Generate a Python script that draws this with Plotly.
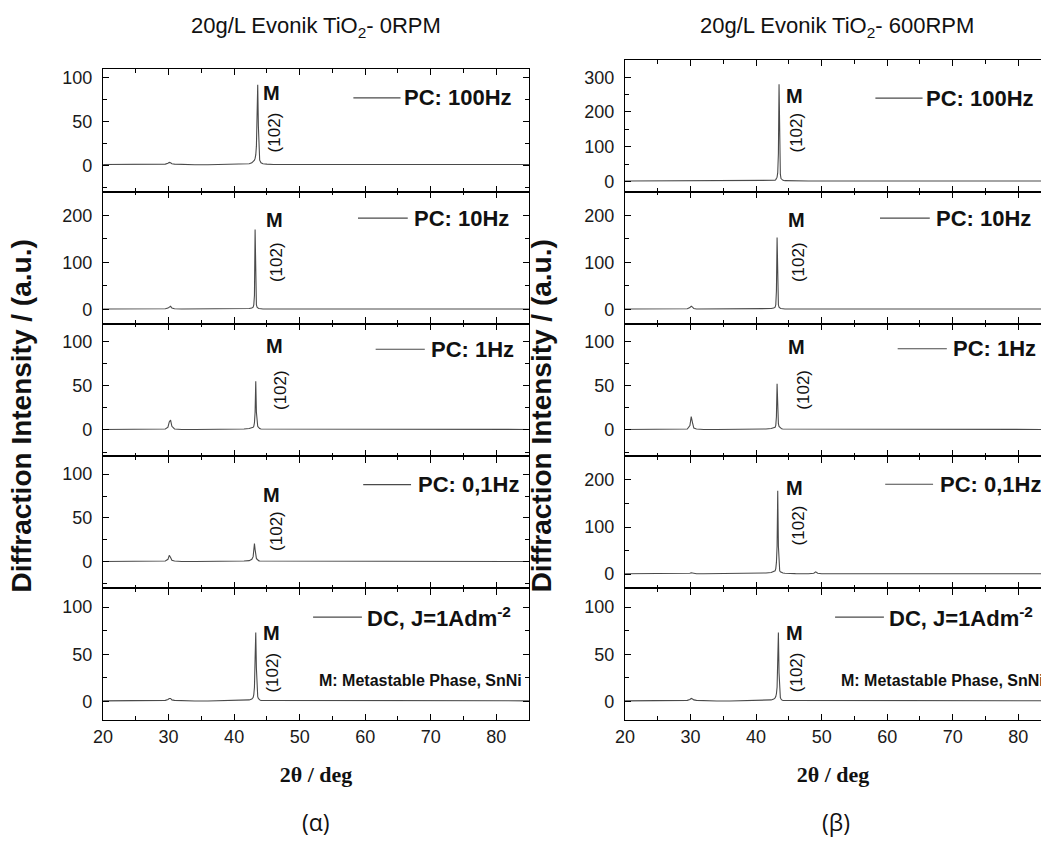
import plotly.graph_objects as go

# 2-theta sampling grid (deg), shared by all patterns
two_theta = [20, 22, 24, 26, 28, 29.5, 29.9, 30.1, 30.3, 30.5, 30.9, 32, 34, 36, 38, 40,
             41.5, 42.3, 42.7, 42.9, 43.0, 43.1, 43.2, 43.3, 43.4, 43.5, 43.6, 43.7, 43.8, 43.9,
             44.1, 44.4, 45, 46, 48, 48.8, 49.1, 49.4, 50, 53, 56, 60, 64, 68, 72, 76,
             79.3, 79.8, 80.3, 82, 85]

# 0 RPM patterns (a.u.)
rpm0_100hz = [1, 1, 1, 1, 1, 1.5, 2.5, 3.5, 3, 2, 1.5, 1, 0.8, 0.8, 1, 1.2,
              1.5, 2, 3, 4, 5, 6, 8, 12, 22, 50, 92, 45, 14, 6,
              3, 2, 1.5, 1, 1, 1, 1.2, 1, 1, 1, 1, 1.5, 1, 1, 1, 1,
              1, 1.5, 1, 1, 1]
rpm0_10hz = [1, 1, 1, 1, 1, 1.5, 3, 6, 7, 3, 1.5, 1, 1, 1, 1, 1.2,
             1.5, 2, 3, 5, 10, 30, 170, 35, 10, 5, 3, 2.5, 2, 1.5,
             1.5, 1, 1, 1, 1, 1, 1, 1, 1, 1, 1, 1, 1, 1, 1, 1,
             1, 1, 1, 1, 1]
rpm0_1hz = [0.5, 0.5, 0.5, 0.5, 0.5, 1, 3, 9, 11, 4, 1, 0.5, 0.5, 0.5, 0.5, 0.8,
            1, 1.5, 2, 3, 4, 8, 20, 55, 20, 7, 4, 3, 2, 1.5,
            1, 1, 0.8, 0.5, 0.5, 0.5, 0.5, 0.5, 0.5, 0.5, 0.5, 0.5, 0.5, 0.5, 0.5, 0.5,
            0.5, 0.5, 0.5, 0.5, 0.5]
rpm0_01hz = [0.5, 0.5, 0.5, 0.5, 0.5, 1, 3, 7.5, 5, 2, 1, 0.5, 0.5, 0.5, 0.5, 0.8,
             1, 1.5, 3, 6, 12, 21, 14, 7, 4, 3, 2, 1.5, 1.2, 1,
             1, 0.8, 0.5, 0.5, 0.5, 0.5, 0.5, 0.5, 0.5, 0.5, 0.5, 0.5, 0.5, 0.5, 0.5, 0.5,
             0.5, 0.5, 0.5, 0.5, 0.5]
rpm0_dc = [0.5, 0.5, 0.5, 0.5, 0.5, 1, 2, 3, 3, 1.5, 1, 0.5, 0.3, 0.3, 0.5, 0.8,
           1, 1.5, 2.5, 4, 7, 15, 45, 73, 35, 10, 5, 3, 2, 1.5,
           1, 1, 0.8, 0.5, 0.5, 0.5, 0.5, 0.5, 0.5, 0.5, 0.5, 0.5, 0.5, 0.5, 0.5, 0.5,
           0.5, 1, 0.5, 0.5, 0.5]

# 600 RPM patterns (a.u.)
rpm600_100hz = [1, 1, 1, 1, 1, 1, 1.5, 2.5, 2, 1, 1, 1, 1, 1, 1, 1,
                1, 1.5, 2, 3, 5, 8, 12, 25, 80, 280, 90, 20, 8, 5,
                3, 2, 1.5, 1, 1, 1, 1, 1, 1, 1, 1, 1, 1, 1, 1, 1,
                1, 1, 1, 1, 1]
rpm600_10hz = [1, 1, 1, 1, 1, 1.5, 4, 7, 5, 2, 1, 1, 1, 1, 1, 1,
               1.5, 2, 3, 5, 10, 40, 153, 40, 10, 5, 3, 2.5, 2, 1.5,
               1.5, 1, 1, 1, 1, 1, 1, 1, 1, 1, 1, 1, 1, 1, 1, 1,
               1, 1, 1, 1, 1]
rpm600_1hz = [0.5, 0.5, 0.5, 0.5, 0.5, 1, 5, 15, 8, 2, 1, 0.5, 0.5, 0.5, 0.5, 0.5,
              1, 1.5, 2, 3, 5, 15, 52, 20, 7, 4, 3, 2, 1.5, 1.2,
              1, 1, 0.8, 0.5, 0.5, 0.5, 0.5, 0.5, 0.5, 0.5, 0.5, 0.5, 0.5, 0.5, 0.5, 0.5,
              0.5, 0.5, 0.5, 0.5, 0.5]
rpm600_01hz = [1, 1, 1, 1, 1, 1, 2, 3, 2.5, 1.5, 1, 1, 1, 1, 1.5, 2,
               2.5, 3.5, 5, 7, 12, 25, 60, 177, 60, 15, 7, 5, 4, 3,
               2.5, 2, 1.5, 1.2, 1, 2, 5, 2, 1, 1, 1, 1, 1, 1, 1, 1,
               1, 1, 1, 1, 1]
rpm600_dc = [0.5, 0.5, 0.5, 0.5, 0.5, 1, 2, 3, 2.5, 1.5, 1, 0.5, 0.3, 0.3, 0.5, 0.8,
             1, 1.5, 2.5, 3.5, 5, 8, 15, 35, 73, 30, 8, 4, 2.5, 1.5,
             1, 1, 0.8, 0.5, 0.5, 0.5, 0.5, 0.5, 0.5, 0.5, 0.5, 0.5, 0.5, 0.5, 0.5, 0.5,
             0.5, 1, 0.5, 0.5, 0.5]

conditions = ["PC: 100Hz", "PC: 10Hz", "PC: 1Hz", "PC: 0,1Hz", "DC, J=1Adm<sup>-2</sup>"]
column_titles = ["20g/L Evonik TiO<sub>2</sub>- 0RPM", "20g/L Evonik TiO<sub>2</sub>- 600RPM"]
column_tags = ["(\u03b1)", "(\u03b2)"]
peak_label = "M"
peak_index = "(102)"
phase_note = "M: Metastable Phase, SnNi"

columns = [
    [rpm0_100hz, rpm0_10hz, rpm0_1hz, rpm0_01hz, rpm0_dc],
    [rpm600_100hz, rpm600_10hz, rpm600_1hz, rpm600_01hz, rpm600_dc],
]

# ---- layout geometry (pixels) ----
W, H = 1041, 841
col_x = [(94, 524), (621, 1041)]
col_xrange = [[20, 85], [20, 83.47]]
panel_tops = [[68, 191, 323, 456, 588], [59, 191, 323, 456, 588]]
panel_bottoms = [191, 323, 456, 588, 720]
y_ranges = [
    [[-30, 110], [-30, 250], [-30, 120], [-30, 120], [-20, 120]],
    [[-30, 350], [-30, 250], [-30, 120], [-30, 250], [-20, 120]],
]
y_dticks = [[50, 100, 50, 50, 50], [100, 100, 50, 100, 50]]

# key placement inside each panel: sample-line start/end and text start (deg), height (data)
key_line = [(58.2, 65.4), (58.9, 66.5), (61.6, 69.1), (59.7, 67.0), (52.05, 59.5)]
key_text_x = [66.3, 67.7, 70.3, 68.3, 60.6]
key_y = [[77, 194, 91, 88, 89.4], [240, 194, 91.7, 191, 89.4]]
# peak annotations: (x, y) for "M" and "(102)"
m_pos = [
    [(45.75, 83), (46.1, 190), (46.1, 94.7), (45.7, 75.8), (45.75, 72.9)],
    [(45.84, 247), (46.2, 190), (46.2, 93.5), (45.84, 184), (45.84, 72.9)],
]
hkl_pos = [
    [(46.2, 37.4), (46.5, 100), (47.0, 45), (46.35, 35), (45.85, 31)],
    [(46.2, 140), (46.5, 100), (47.1, 45), (46.5, 103), (46.1, 31)],
]

SANS = "Liberation Sans, Arial, sans-serif"
INK = "#111111"
TRACE = "#4a4a4a"

fig = go.Figure()
layout = dict(
    width=W, height=H, margin=dict(l=0, r=0, t=0, b=0),
    paper_bgcolor="white", plot_bgcolor="white", showlegend=False,
    font=dict(family=SANS, color=INK, size=18),
)
annotations = []
shapes = []

for c in range(2):
    x0, x1 = col_x[c]
    for i in range(5):
        k = c * 5 + i + 1
        xa, ya = f"x{k}", f"y{k}"
        fig.add_trace(go.Scatter(
            x=two_theta, y=columns[c][i], mode="lines",
            line=dict(color=TRACE, width=1.1), xaxis=xa, yaxis=ya,
            name=conditions[i],
        ))
        top, bot = panel_tops[c][i], panel_bottoms[i]
        last = i == 4
        layout[f"xaxis{k}"] = dict(
            domain=[x0 / W, min(x1 / W, 1.0)], range=col_xrange[c], anchor=ya,
            showgrid=False, zeroline=False, showline=True, linecolor="black", linewidth=1.4,
            mirror="ticks", ticks="inside", ticklen=6, tickwidth=1.4, tickcolor="black",
            dtick=10, tick0=20, showticklabels=last,
            tickfont=dict(family=SANS, size=18, color="#1a1a1a"),
            minor=dict(dtick=5, tick0=20, ticks="inside", ticklen=3.5, tickwidth=1.2,
                       tickcolor="black", showgrid=False),
        )
        if last:
            layout[f"xaxis{k}"]["title"] = dict(
                text="<b>2\u03b8 / deg</b>", standoff=20,
                font=dict(family="Liberation Serif, Times New Roman, serif", size=22, color=INK))
        layout[f"yaxis{k}"] = dict(
            domain=[1 - bot / H, 1 - top / H], range=y_ranges[c][i], anchor=xa,
            showgrid=False, zeroline=False, showline=True, linecolor="black", linewidth=1.4,
            mirror="ticks" if c == 0 else False, ticks="inside", ticklen=6, tickwidth=1.4,
            tickcolor="black", dtick=y_dticks[c][i], tick0=0, ticklabelstandoff=6,
            tickfont=dict(family=SANS, size=18, color="#1a1a1a"),
            minor=dict(dtick=y_dticks[c][i] / 2, tick0=0, ticks="inside", ticklen=4,
                       tickwidth=1.2, tickcolor="black", showgrid=False),
        )
        # key: sample line + condition label
        shapes.append(dict(type="line", xref=xa, yref=ya,
                           x0=key_line[i][0], x1=key_line[i][1], y0=key_y[c][i], y1=key_y[c][i],
                           line=dict(color=TRACE, width=1.1)))
        annotations.append(dict(xref=xa, yref=ya, x=key_text_x[i], y=key_y[c][i],
                                text=f"<b>{conditions[i]}</b>", showarrow=False,
                                xanchor="left", yanchor="middle", xshift=-4,
                                font=dict(family=SANS, size=22, color=INK)))
        # peak labels
        annotations.append(dict(xref=xa, yref=ya, x=m_pos[c][i][0], y=m_pos[c][i][1],
                                text=f"<b>{peak_label}</b>", showarrow=False,
                                xanchor="center", yanchor="middle",
                                font=dict(family=SANS, size=20, color=INK)))
        annotations.append(dict(xref=xa, yref=ya, x=hkl_pos[c][i][0], y=hkl_pos[c][i][1],
                                text=peak_index, showarrow=False, textangle=-90,
                                xanchor="center", yanchor="middle",
                                font=dict(family=SANS, size=17, color=INK)))
        if last:
            annotations.append(dict(xref=xa, yref=ya, x=53.5, y=22,
                                    text=f"<b>{phase_note}</b>", showarrow=False,
                                    xanchor="left", yanchor="middle", xshift=-6,
                                    font=dict(family=SANS, size=16, color=INK)))

# column titles, shared y-axis titles and panel tags
title_x = [309, 835]
ylab_x = [12, 537]
tag_x = [309, 834]
for c in range(2):
    annotations.append(dict(xref="paper", yref="paper", x=title_x[c] / W, y=1 - 26 / H,
                            text=column_titles[c], showarrow=False,
                            xanchor="center", yanchor="middle",
                            font=dict(family=SANS, size=22, color=INK)))
    annotations.append(dict(xref="paper", yref="paper", x=ylab_x[c] / W, y=1 - 415 / H,
                            text="<b>Diffraction Intensity / (a.u.)</b>", showarrow=False,
                            textangle=-90, xanchor="center", yanchor="middle",
                            font=dict(family=SANS, size=28, color=INK)))
    annotations.append(dict(xref="paper", yref="paper", x=tag_x[c] / W, y=1 - 822 / H,
                            text=column_tags[c], showarrow=False,
                            xanchor="center", yanchor="middle",
                            font=dict(family="Open Sans, Noto Sans, sans-serif", size=23, color=INK)))

layout["annotations"] = annotations
layout["shapes"] = shapes
fig.update_layout(**layout)
fig.write_html("out.html")
